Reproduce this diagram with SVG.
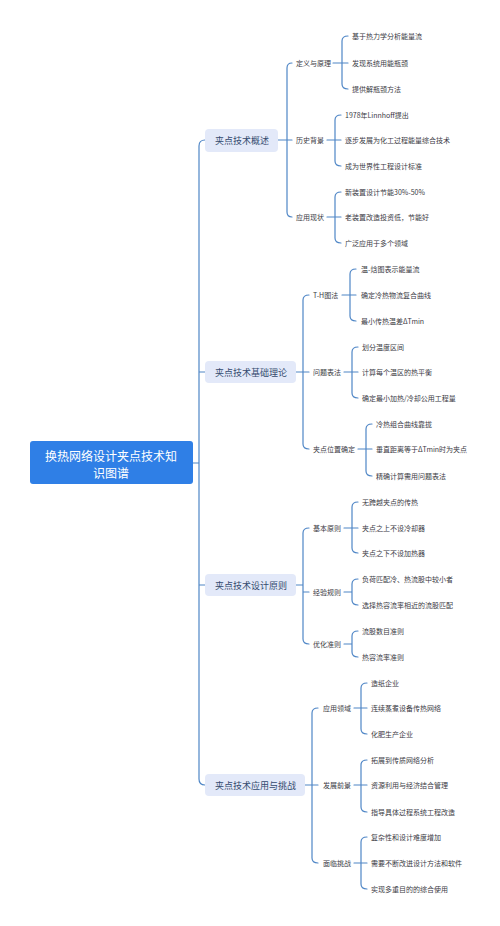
<svg xmlns="http://www.w3.org/2000/svg" width="500" height="926" viewBox="0 0 500 926">
<style>
.c{fill:none;stroke:#4f86c6;stroke-width:1.2;stroke-linecap:round}
.rt{fill:#2f7fe6}
.rtt{fill:#ffffff;font-family:"Noto Sans CJK SC","Noto Sans",sans-serif;font-size:12px;text-anchor:middle;dominant-baseline:central}
.l1{fill:#e3e9f9}
.l1t{fill:#34496e;font-family:"Noto Sans CJK SC","Noto Sans",sans-serif;font-size:9px;dominant-baseline:central}
.t{fill:#3a3a44;font-family:"Noto Sans CJK SC","Noto Sans",sans-serif;font-size:7px;dominant-baseline:central}
</style>
<rect width="500" height="926" fill="#ffffff"/>
<g id="connectors">
<!-- trunk -->
<path class="c" d="M193,463 H199 M205,140 Q199,140 199,146 V779 Q199,785 205,785 M199,372 H205 M199,585 H205"/>
<!-- branch 1 -->
<path class="c" d="M278,140 H292 M292,63 Q287,63 287,68 V212 Q287,217 292,217"/>
<path class="c" d="M333,63 H348 M348,36 Q342,36 342,41 V84 Q342,89 348,89"/>
<path class="c" d="M327,140 H341 M341,115 Q335,115 335,120 V161 Q335,166 341,166"/>
<path class="c" d="M327,217 H341 M341,192 Q335,192 335,197 V238 Q335,243 341,243"/>
<!-- branch 2 -->
<path class="c" d="M296,372 H309 M309,295 Q303,295 303,300 V444 Q303,449 309,449"/>
<path class="c" d="M342,295 H356 M356,269 Q350,269 350,274 V316 Q350,321 356,321"/>
<path class="c" d="M344,372 H358 M358,347 Q352,347 352,352 V393 Q352,398 358,398"/>
<path class="c" d="M358,449 H372 M372,424 Q366,424 366,429 V471 Q366,476 372,476"/>
<!-- branch 3 -->
<path class="c" d="M296,585 H303 M309,528 Q303,528 303,533 V639 Q303,644 309,644 M303,592 H309"/>
<path class="c" d="M344,528 H358 M358,502 Q352,502 352,507 V548 Q352,553 358,553"/>
<path class="c" d="M344,592 H352 M358,579 Q352,579 352,584 V600 Q352,605 358,605"/>
<path class="c" d="M344,644 H352 M358,631 Q352,631 352,636 V652 Q352,657 358,657"/>
<!-- branch 4 -->
<path class="c" d="M305,785 H318 M318,708 Q312,708 312,713 V858 Q312,863 318,863"/>
<path class="c" d="M354,708 H367 M367,683 Q361,683 361,688 V729 Q361,734 367,734"/>
<path class="c" d="M354,785 H367 M367,760 Q361,760 361,765 V807 Q361,812 367,812"/>
<path class="c" d="M354,863 H367 M367,837 Q361,837 361,842 V884 Q361,889 367,889"/>
</g>
<g id="root">
<rect class="rt" x="30" y="441" width="163" height="43" rx="3"/>
<text class="rtt" x="111" y="455">换热网络设计夹点技术知</text>
<text class="rtt" x="111" y="472">识图谱</text>
</g>
<g id="n1"><rect class="l1" x="205" y="129" width="73" height="23" rx="4"/><text class="l1t" x="215" y="140.5">夹点技术概述</text></g>
<g id="n2"><rect class="l1" x="205" y="361" width="91" height="22" rx="4"/><text class="l1t" x="215" y="372.5">夹点技术基础理论</text></g>
<g id="n3"><rect class="l1" x="205" y="574" width="91" height="22" rx="4"/><text class="l1t" x="215" y="585.5">夹点技术设计原则</text></g>
<g id="n4"><rect class="l1" x="205" y="774" width="100" height="22" rx="4"/><text class="l1t" x="215" y="785.5">夹点技术应用与挑战</text></g>
<g id="n1a"><text class="t" x="296" y="63">定义与原理</text></g>
<g id="n1a1"><text class="t" x="352" y="36">基于热力学分析能量流</text></g>
<g id="n1a2"><text class="t" x="352" y="63">发现系统用能瓶颈</text></g>
<g id="n1a3"><text class="t" x="352" y="89">提供解瓶颈方法</text></g>
<g id="n1b"><text class="t" x="296" y="140">历史背景</text></g>
<g id="n1b1"><text class="t" x="345" y="115">1978年Linnhoff提出</text></g>
<g id="n1b2"><text class="t" x="345" y="140">逐步发展为化工过程能量综合技术</text></g>
<g id="n1b3"><text class="t" x="345" y="166">成为世界性工程设计标准</text></g>
<g id="n1c"><text class="t" x="296" y="217">应用现状</text></g>
<g id="n1c1"><text class="t" x="345" y="192">新装置设计节能30%-50%</text></g>
<g id="n1c2"><text class="t" x="345" y="217">老装置改造投资低，节能好</text></g>
<g id="n1c3"><text class="t" x="345" y="243">广泛应用于多个领域</text></g>
<g id="n2a"><text class="t" x="313" y="295">T-H图法</text></g>
<g id="n2a1"><text class="t" x="361" y="269">温-焓图表示能量流</text></g>
<g id="n2a2"><text class="t" x="361" y="295">确定冷热物流复合曲线</text></g>
<g id="n2a3"><text class="t" x="361" y="321">最小传热温差ΔTmin</text></g>
<g id="n2b"><text class="t" x="313" y="372">问题表法</text></g>
<g id="n2b1"><text class="t" x="362" y="347">划分温度区间</text></g>
<g id="n2b2"><text class="t" x="362" y="372">计算每个温区的热平衡</text></g>
<g id="n2b3"><text class="t" x="362" y="398">确定最小加热/冷却公用工程量</text></g>
<g id="n2c"><text class="t" x="313" y="449">夹点位置确定</text></g>
<g id="n2c1"><text class="t" x="376" y="424">冷热组合曲线靠拢</text></g>
<g id="n2c2"><text class="t" x="376" y="449">垂直距离等于ΔTmin时为夹点</text></g>
<g id="n2c3"><text class="t" x="376" y="476">精确计算需用问题表法</text></g>
<g id="n3a"><text class="t" x="313" y="528">基本原则</text></g>
<g id="n3a1"><text class="t" x="362" y="502">无跨越夹点的传热</text></g>
<g id="n3a2"><text class="t" x="362" y="528">夹点之上不设冷却器</text></g>
<g id="n3a3"><text class="t" x="362" y="553">夹点之下不设加热器</text></g>
<g id="n3b"><text class="t" x="313" y="592">经验规则</text></g>
<g id="n3b1"><text class="t" x="362" y="579">负荷匹配冷、热流股中较小者</text></g>
<g id="n3b2"><text class="t" x="362" y="605">选择热容流率相近的流股匹配</text></g>
<g id="n3c"><text class="t" x="313" y="644">优化准则</text></g>
<g id="n3c1"><text class="t" x="362" y="631">流股数目准则</text></g>
<g id="n3c2"><text class="t" x="362" y="657">热容流率准则</text></g>
<g id="n4a"><text class="t" x="323" y="708">应用领域</text></g>
<g id="n4a1"><text class="t" x="371" y="683">造纸企业</text></g>
<g id="n4a2"><text class="t" x="371" y="708">连续蒸煮设备传热网络</text></g>
<g id="n4a3"><text class="t" x="371" y="734">化肥生产企业</text></g>
<g id="n4b"><text class="t" x="323" y="785">发展前景</text></g>
<g id="n4b1"><text class="t" x="371" y="760">拓展到传质网络分析</text></g>
<g id="n4b2"><text class="t" x="371" y="785">资源利用与经济结合管理</text></g>
<g id="n4b3"><text class="t" x="371" y="812">指导具体过程系统工程改造</text></g>
<g id="n4c"><text class="t" x="323" y="863">面临挑战</text></g>
<g id="n4c1"><text class="t" x="371" y="837">复杂性和设计难度增加</text></g>
<g id="n4c2"><text class="t" x="371" y="863">需要不断改进设计方法和软件</text></g>
<g id="n4c3"><text class="t" x="371" y="889">实现多重目的的综合使用</text></g>
</svg>
